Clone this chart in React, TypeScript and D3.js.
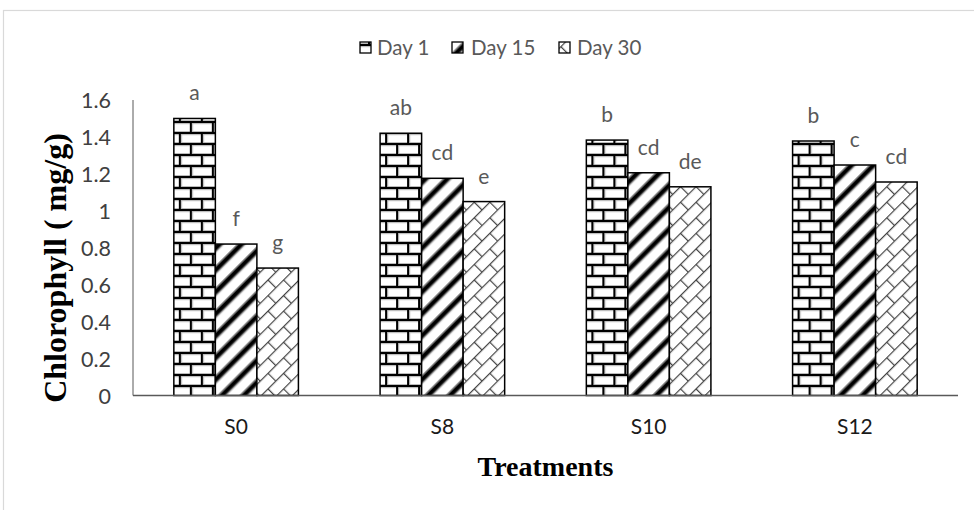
import React from 'react';
import * as d3 from 'd3';

const categories = ['S0', 'S8', 'S10', 'S12'];
const seriesNames = ['Day 1', 'Day 15', 'Day 30'];
const day1 = [1.5, 1.42, 1.383, 1.378];
const day15 = [0.82, 1.176, 1.206, 1.248];
const day30 = [0.69, 1.05, 1.13, 1.156];
const day1Letters = ['a', 'ab', 'b', 'b'];
const day15Letters = ['f', 'cd', 'cd', 'c'];
const day30Letters = ['g', 'e', 'de', 'cd'];
const yTicks = [0, 0.2, 0.4, 0.6, 0.8, 1, 1.2, 1.4, 1.6];

const values = [day1, day15, day30];
const letters = [day1Letters, day15Letters, day30Letters];
const patternIds = ['pBrick', 'pStripe', 'pDiagBrick'];

const W = 974, H = 510;
const plot = { left: 133, right: 958, top: 100, bottom: 395.5 };
const sans = 'Lato, "Open Sans", sans-serif';
const serif = '"Liberation Serif", "Times New Roman", serif';

function Patterns() {
  return (
    <defs>
      {/* horizontal brick */}
      <pattern id="pBrick" patternUnits="userSpaceOnUse" width={22} height={22} x={0} y={0}>
        <rect width={22} height={22} fill="#fff" />
        <rect x={0} y={0} width={22} height={2.2} fill="#000" />
        <rect x={0} y={11} width={22} height={2.2} fill="#000" />
        <rect x={0} y={2.2} width={22} height={1} fill="#bbb" />
        <rect x={0} y={13.2} width={22} height={1} fill="#bbb" />
        <rect x={0} y={10} width={22} height={1} fill="#bbb" />
        <rect x={0} y={21} width={22} height={1} fill="#bbb" />
        <rect x={5} y={0} width={2.2} height={11} fill="#000" />
        <rect x={16} y={11} width={2.2} height={11} fill="#000" />
        <rect x={7.2} y={2} width={1} height={9} fill="#bbb" />
        <rect x={18.2} y={13} width={1} height={9} fill="#bbb" />
      </pattern>
      {/* wide upward diagonal */}
      <pattern id="pStripe" patternUnits="userSpaceOnUse" width={15.5} height={15.5} patternTransform="rotate(45)">
        <rect width={15.5} height={15.5} fill="#fff" />
        <rect x={0} y={0} width={7} height={15.5} fill="#999" />
        <rect x={1.5} y={0} width={4} height={15.5} fill="#000" />
      </pattern>
      {/* diagonal brick */}
      <pattern id="pDiagBrick" patternUnits="userSpaceOnUse" width={22} height={22} patternTransform="rotate(-45)">
        <rect width={22} height={22} fill="#fff" />
        <rect x={0} y={0} width={22} height={1.2} fill="#444" />
        <rect x={0} y={11} width={22} height={1.2} fill="#444" />
        <rect x={0} y={0} width={1.2} height={11} fill="#444" />
        <rect x={11} y={11} width={1.2} height={11} fill="#444" />
      </pattern>
    </defs>
  );
}

export default function App() {
  const x0 = d3.scaleBand<string>()
    .domain(categories)
    .range([plot.left, plot.right])
    .paddingInner(0.396)
    .paddingOuter(0.198);
  const x1 = d3.scaleBand<string>()
    .domain(seriesNames)
    .range([0, x0.bandwidth()]);
  const y = d3.scaleLinear().domain([0, 1.6]).range([plot.bottom, plot.top]);

  const legendX = [360, 452, 559];
  const legendTextX = [377, 471, 577];

  return (
    <svg width={W} height={H} style={{ position: 'absolute', left: 0, top: 0, background: '#fff' }}>
      <Patterns />
      <rect x={3.5} y={10.5} width={1000} height={600} fill="#fff" stroke="#d9d9d9" strokeWidth={1.2} />

      {/* legend */}
      <g>
        {seriesNames.map((s, i) => (
          <g key={s}>
            <rect x={legendX[i]} y={42} width={11} height={11} fill={`url(#${patternIds[i]})`} stroke="#000" strokeWidth={1.3} />
            <text x={legendTextX[i]} y={55} fontFamily={sans} fontSize={20.5} fill="#595959">{s}</text>
          </g>
        ))}
      </g>

      {/* y axis */}
      <line x1={plot.left} x2={plot.left} y1={plot.top} y2={plot.bottom} stroke="#595959" strokeWidth={1} />
      {yTicks.map(t => (
        <text key={t} x={111} y={y(t)} dy={8} textAnchor="end" fontFamily={sans} fontSize={21.5} fill="#404040">
          {d3.format('~g')(t)}
        </text>
      ))}

      {/* bars */}
      {categories.map((c, ci) => (
        <g key={c} transform={`translate(${x0(c)},0)`}>
          {seriesNames.map((s, si) => {
            const v = values[si][ci];
            return (
              <g key={s}>
                <rect
                  x={x1(s)}
                  y={y(v)}
                  width={x1.bandwidth()}
                  height={plot.bottom - y(v)}
                  fill={`url(#${patternIds[si]})`}
                  stroke="#000"
                  strokeWidth={1.5}
                />
                <text
                  x={(x1(s) as number) + x1.bandwidth() / 2}
                  y={y(v) - 18}
                  textAnchor="middle"
                  fontFamily={sans}
                  fontSize={21}
                  fill="#595959"
                >
                  {letters[si][ci]}
                </text>
              </g>
            );
          })}
        </g>
      ))}

      {/* x axis */}
      <line x1={plot.left} x2={plot.right} y1={plot.bottom} y2={plot.bottom} stroke="#595959" strokeWidth={1.4} />
      {categories.map(c => (
        <text key={c} x={(x0(c) as number) + x0.bandwidth() / 2} y={434} textAnchor="middle" fontFamily={sans} fontSize={21} fill="#1a1a1a">
          {c}
        </text>
      ))}

      <text x={(plot.left + plot.right) / 2} y={476} textAnchor="middle" fontFamily={serif} fontWeight="bold" fontSize={28} fill="#000">
        Treatments
      </text>
      <text
        transform={`translate(66,${268}) rotate(-90)`}
        textAnchor="middle"
        fontFamily={serif}
        fontWeight="bold"
        fontSize={32}
        fill="#000"
      >
        Chlorophyll ( mg/g)
      </text>
    </svg>
  );
}
